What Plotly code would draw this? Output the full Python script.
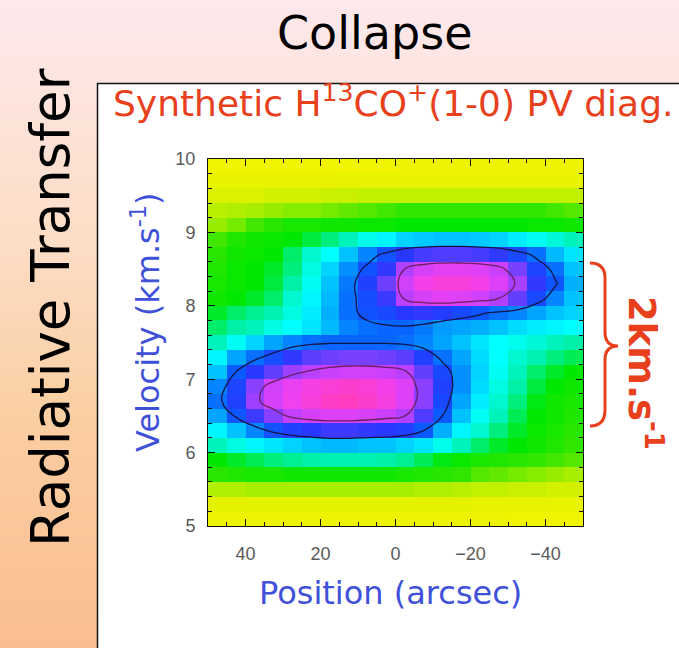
import plotly.graph_objects as go

# ---------------- data ----------------
positions = [47.5, 42.5, 37.5, 32.5, 27.5, 22.5, 17.5, 12.5, 7.5, 2.5,
             -2.5, -7.5, -12.5, -17.5, -22.5, -27.5, -32.5, -37.5, -42.5, -47.5]
velocities = [9.9, 9.7, 9.5, 9.3, 9.1, 8.9, 8.7, 8.5, 8.3, 8.1, 7.9, 7.7, 7.5,
              7.3, 7.1, 6.9, 6.7, 6.5, 6.3, 6.1, 5.9, 5.7, 5.5, 5.3, 5.1]
intensity = [
    [2, 2, 2, 2, 2, 2, 2, 2, 2, 2, 3, 3, 3, 3, 3, 3, 3, 3, 3, 3],
    [5, 5, 5, 5, 5, 5, 5, 6, 6, 6, 6, 6, 6, 6, 6, 6, 6, 6, 6, 6],
    [9, 9, 9, 10, 10, 10, 11, 11, 12, 12, 12, 12, 12, 12, 12, 12, 12, 12, 12, 12],
    [13, 14, 15, 16, 17, 17, 18, 19, 20, 21, 22, 22, 22, 22, 22, 22, 22, 22, 21, 20],
    [16, 18, 21, 23, 25, 25, 26, 26, 27, 27, 28, 28, 28, 28, 28, 28, 28, 27, 27, 26],
    [21, 24, 26, 27, 28, 31, 34, 38, 43, 46, 50, 51, 52, 52, 51, 50, 47, 44, 41, 38],
    [23, 26, 27, 28, 33, 40, 45, 52, 58, 64, 70, 73, 74, 74, 73, 71, 66, 60, 53, 48],
    [24, 27, 28, 30, 34, 42, 50, 57, 64, 71, 84, 89, 91, 91, 90, 87, 78, 67, 60, 52],
    [25, 27, 28, 31, 36, 44, 52, 59, 68, 77, 88, 94, 96, 96, 94, 90, 83, 71, 63, 54],
    [26, 28, 30, 33, 40, 46, 53, 60, 65, 72, 85, 89, 91, 90, 88, 84, 76, 66, 58, 52],
    [30, 33, 35, 37, 42, 47, 54, 60, 64, 66, 70, 71, 69, 66, 63, 60, 58, 55, 52, 50],
    [33, 36, 38, 42, 45, 48, 53, 58, 60, 61, 61, 59, 56, 55, 54, 52, 49, 47, 46, 45],
    [38, 44, 50, 55, 58, 60, 61, 61, 61, 61, 60, 58, 55, 52, 48, 45, 43, 41, 38, 36],
    [46, 55, 60, 65, 71, 75, 77, 78, 78, 77, 75, 68, 60, 55, 49, 45, 40, 37, 34, 32],
    [52, 62, 70, 76, 82, 85, 87, 88, 88, 87, 85, 76, 66, 57, 50, 44, 38, 33, 30, 28],
    [58, 67, 80, 88, 92, 95, 97, 98, 97, 94, 90, 80, 68, 57, 49, 42, 36, 31, 28, 26],
    [60, 68, 82, 89, 93, 96, 99, 100, 98, 95, 90, 80, 66, 55, 47, 40, 34, 29, 26, 25],
    [55, 63, 72, 80, 86, 89, 90, 90, 89, 87, 84, 74, 62, 52, 44, 38, 32, 28, 26, 24],
    [46, 52, 58, 64, 68, 70, 72, 72, 71, 70, 68, 62, 54, 46, 40, 34, 30, 27, 25, 23],
    [38, 42, 46, 48, 50, 52, 53, 53, 52, 52, 50, 48, 43, 38, 33, 30, 28, 26, 24, 22],
    [28, 30, 32, 34, 35, 36, 37, 37, 37, 36, 35, 32, 29, 27, 25, 24, 23, 22, 21, 20],
    [23, 24, 25, 25, 26, 26, 26, 26, 26, 26, 25, 24, 23, 22, 20, 19, 18, 17, 16, 15],
    [14, 14, 15, 15, 15, 15, 15, 15, 15, 15, 15, 14, 14, 13, 12, 12, 11, 11, 10, 10],
    [7, 7, 7, 7, 8, 8, 8, 8, 8, 8, 8, 7, 7, 7, 6, 6, 6, 6, 5, 5],
    [3, 3, 3, 3, 3, 3, 3, 3, 3, 3, 3, 3, 3, 3, 3, 3, 2, 2, 2, 2],
]
contour_levels = [62, 84]
x_ticks = [40, 20, 0, -20, -40]
y_ticks = [5, 6, 7, 8, 9, 10]

# ---------------- styling ----------------
W, H = 679, 648
L, R, T, B = 208, 583, 159, 526   # plot area in pixels


def px(xp):
    return (xp - L) / (R - L)


def py(yp):
    return (B - yp) / (B - T)


colorscale = [
    [0.00, '#f4f400'], [0.08, '#e2f200'], [0.15, '#a8ee00'], [0.22, '#30e600'],
    [0.28, '#00e800'], [0.36, '#00f0a8'], [0.45, '#00ffff'], [0.54, '#00b0ff'],
    [0.62, '#0a5aff'], [0.70, '#2838ff'], [0.78, '#7840ff'], [0.86, '#c440ff'],
    [0.93, '#f040f0'], [1.00, '#ff3cc0'],
]

fig = go.Figure()
fig.add_trace(go.Heatmap(
    x=positions, y=velocities, z=intensity, zmin=0, zmax=100,
    colorscale=colorscale, showscale=False, hoverinfo='skip'))
fig.add_trace(go.Contour(
    x=positions, y=velocities, z=intensity,
    contours=dict(coloring='lines', start=contour_levels[0], end=contour_levels[1],
                  size=contour_levels[1] - contour_levels[0]),
    zmin=contour_levels[0], zmax=contour_levels[1],
    colorscale=[[0, '#15154a'], [1, '#6a1f62']],
    line=dict(width=1.3, smoothing=1.3), showscale=False, hoverinfo='skip'))

# background gradient (pink -> peach) drawn as thin stripes
stops = [(0.0, (253, 232, 236)), (0.35, (252, 222, 200)),
         (0.65, (251, 206, 162)), (1.0, (249, 189, 146))]


def grad(t):
    for (t0, c0), (t1, c1) in zip(stops[:-1], stops[1:]):
        if t0 <= t <= t1:
            f = (t - t0) / (t1 - t0)
            return 'rgb(%d,%d,%d)' % tuple(round(a + (b - a) * f) for a, b in zip(c0, c1))
    return 'rgb(%d,%d,%d)' % stops[-1][1]


shapes = []
n = 81
for k in range(n):
    y0 = k * H / n
    y1 = (k + 1) * H / n + 0.6
    shapes.append(dict(type='rect', xref='paper', yref='paper', layer='below',
                       x0=px(-2), x1=px(W + 2), y0=py(y1), y1=py(y0),
                       fillcolor=grad((k + 0.5) / n), line=dict(width=0)))
# white panel with black frame
shapes.append(dict(type='rect', xref='paper', yref='paper', layer='below',
                   x0=px(97.5), x1=px(W + 10), y0=py(H + 10), y1=py(83.5),
                   fillcolor='white', line=dict(color='#111111', width=1.5)))
# curly brace
brace = ('M {a},{b} Q {c},{b} {c},{d} L {c},{e} Q {c},{f} {g},{f} '
         'Q {c},{f} {c},{h} L {c},{i} Q {c},{j} {a},{j}').format(
    a=px(590), c=px(605), g=px(618),
    b=py(263), d=py(278), e=py(332), f=py(346), h=py(360), i=py(410), j=py(426))
shapes.append(dict(type='path', xref='paper', yref='paper', path=brace,
                   line=dict(color='#e8401c', width=3)))

comic = 'DejaVu Sans'
annotations = [
    dict(text='Collapse', x=px(374), y=py(33), font=dict(family=comic, size=46, color='black')),
    dict(text='Radiative Transfer', x=px(50), y=py(308), textangle=-90,
         font=dict(family=comic, size=53, color='black')),
    dict(text='Synthetic H<sup>13</sup>CO<sup>+</sup>(1-0) PV diag.', x=px(111), y=py(101),
         xanchor='left', font=dict(family=comic, size=36, color='#e8401c')),
    dict(text='Velocity (km.s<sup>-1</sup>)', x=px(146), y=py(322), textangle=-90,
         font=dict(family=comic, size=32, color='#3f51d9')),
    dict(text='Position (arcsec)', x=px(390), y=py(593),
         font=dict(family=comic, size=32, color='#3f51d9')),
    dict(text='<b>2km.s<sup>-1</sup></b>', x=px(645), y=py(373), textangle=90,
         font=dict(family=comic, size=37, color='#e8401c')),
]
for a in annotations:
    a.update(xref='paper', yref='paper', showarrow=False)
    a.setdefault('xanchor', 'center')
    a.setdefault('yanchor', 'middle')

axis_common = dict(showline=True, linecolor='#111111', linewidth=1, mirror='allticks',
                   ticks='inside', ticklen=7, tickcolor='#111111', tickwidth=1,
                   showgrid=False, zeroline=False,
                   tickfont=dict(family='Liberation Sans', size=18, color='#5a5a5a'))

fig.update_layout(
    width=W, height=H, autosize=False,
    margin=dict(l=L, r=W - R, t=T, b=H - B, pad=0),
    paper_bgcolor='white', plot_bgcolor='white',
    shapes=shapes, annotations=annotations, showlegend=False,
    xaxis=dict(range=[50, -50], tickvals=x_ticks, ticklabelstandoff=11,
               minor=dict(ticks='inside', dtick=5, tick0=0, ticklen=4,
                          tickcolor='#111111'), **axis_common),
    yaxis=dict(range=[5, 10], tickvals=y_ticks, ticklabelstandoff=8,
               minor=dict(ticks='inside', dtick=0.2, tick0=5, ticklen=4,
                          tickcolor='#111111'), **axis_common),
)

fig.write_html('out.html')
